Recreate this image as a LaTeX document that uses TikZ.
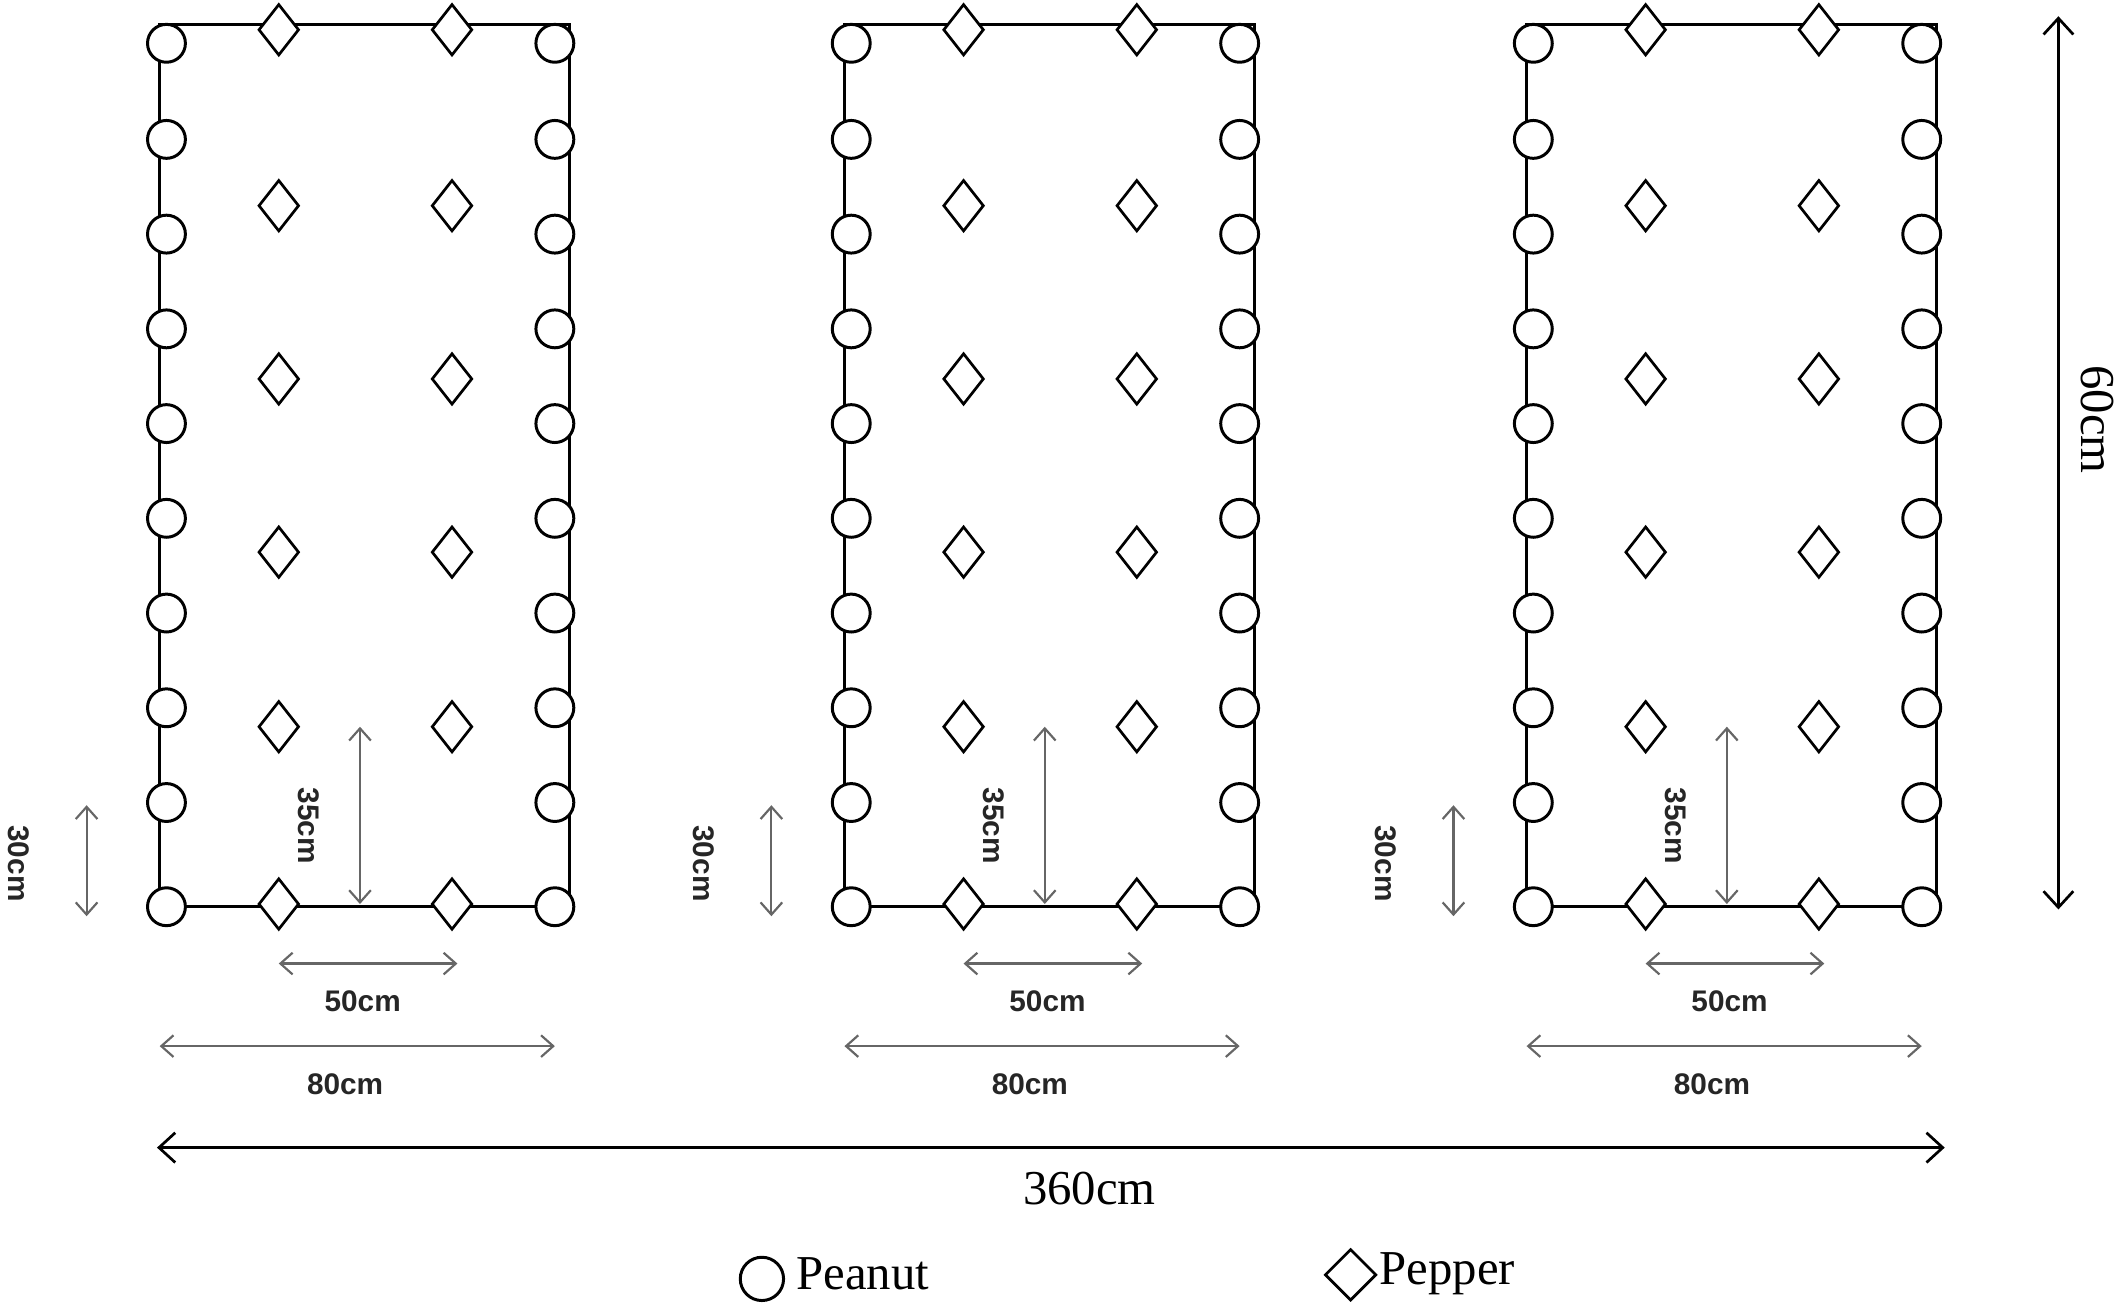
\documentclass[tikz,border=0pt]{standalone}
\usepackage{fontspec}
\setmainfont{Liberation Serif}
\setsansfont{Liberation Sans}
\usetikzlibrary{shapes.geometric,arrows.meta}
\begin{document}
\begin{tikzpicture}[x=1pt,y=-1pt,
  pea/.style={circle,draw,line width=2.2pt,fill=white,minimum size=28pt,inner sep=0pt},
  pep/.style={diamond,draw,line width=2pt,fill=white,minimum width=30pt,minimum height=38pt,inner sep=0pt},
  gar/.style={{Straight Barb[length=9pt,width=16pt]}-{Straight Barb[length=9pt,width=16pt]},gray!80!black,line width=1.6pt},
  bar/.style={{Straight Barb[length=12pt,width=22pt]}-{Straight Barb[length=12pt,width=22pt]},line width=2pt},
  glab/.style={font=\sffamily\bfseries\fontsize{22}{22}\selectfont,text=black!85}]
\useasboundingbox (0,0) rectangle (1568,966);
\foreach \o/\b in {0/a,506/b,1010/c}{
  \draw[line width=2.4pt] (\o+118,18) rectangle (\o+421,670);
  \foreach \y [count=\i] in {32,103,173,243,313,383,453,523,593,670}{
    \node[pea] (\b L\i) at (\o+123,\y) {};
    \node[pea] (\b R\i) at (\o+410,\y) {};
  }
  \foreach \y [count=\i] in {22,152,280,408,537,668}{
    \node[pep] (\b P\i) at (\o+206,\y) {};
    \node[pep] (\b Q\i) at (\o+334,\y) {};
  }
  \coordinate (\b v1) at (\o+266,537); \coordinate (\b v2) at (\o+266,668);
  \draw[gar] (\b v1) -- (\b v2);
  \node[glab,rotate=-90] (\b t35) at (\o+228,610) {35cm};
  \coordinate (\b w1) at (\o+64,595); \coordinate (\b w2) at (\o+64,677);
  \draw[gar] (\b w1) -- (\b w2);
  \node[glab,rotate=-90] (\b t30) at (\o+14,638) {30cm};
  \coordinate (\b h1) at (\o+206,712); \coordinate (\b h2) at (\o+338,712);
  \draw[gar] (\b h1) -- (\b h2);
  \node[glab] (\b t50) at (\o+268,740) {50cm};
  \coordinate (\b k1) at (\o+118,773); \coordinate (\b k2) at (\o+410,773);
  \draw[gar] (\b k1) -- (\b k2);
  \node[glab] (\b t80) at (\o+255,801) {80cm};
}
\coordinate (s1) at (116,848); \coordinate (s2) at (1437,848);
\draw[bar] (s1) -- (s2);
\node[font=\fontsize{36}{36}\selectfont] (t360) at (805,878) {360cm};
\coordinate (u1) at (1521,12); \coordinate (u2) at (1521,672);
\draw[bar] (u1) -- (u2);
\node[font=\fontsize{36}{36}\selectfont,rotate=-90] (t60) at (1550,310) {60cm};
\node[pea,minimum size=32pt] (lg1) at (563,945) {};
\node[anchor=west,font=\fontsize{36}{36}\selectfont] (lt1) at (585,941) {Peanut};
\node[pep,minimum width=38pt,minimum height=38pt] (lg2) at (998,942) {};
\node[anchor=west,font=\fontsize{36}{36}\selectfont] (lt2) at (1016,941) {Pepper};
\end{tikzpicture}
\end{document}
